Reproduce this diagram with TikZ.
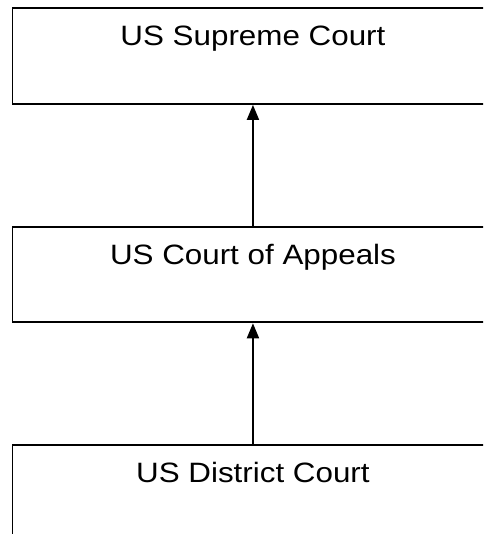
\documentclass[tikz,border=0pt]{standalone}
\usepackage{fontspec}
\setmainfont[FakeStretch=1.12]{Liberation Sans}
\usetikzlibrary{
  positioning,
  arrows.meta
}

\begin{document}
\begin{tikzpicture}[node distance=121pt,
		court/.style={rectangle,draw=black,line width=1.9pt,inner sep=0pt,minimum width=481pt,text height=37.5pt,text depth=58pt,font=\fontsize{28}{34}\selectfont},
		up/.style={line width=1.9pt,-{Triangle[length=15pt,width=12pt]}}]
		\clip (0,0) rectangle (483pt,-534pt);
		\node[court,anchor=north west] (1) at (11.5pt,-7.5pt) {US Supreme Court};
		\node[court,below = of 1] (2) {US Court of Appeals};
		\node[court,below = of 2] (3) {US District Court};

		\draw [up] (3) -- (2);
		\draw [up] (2) -- (1);
	\end{tikzpicture}
\end{document}
